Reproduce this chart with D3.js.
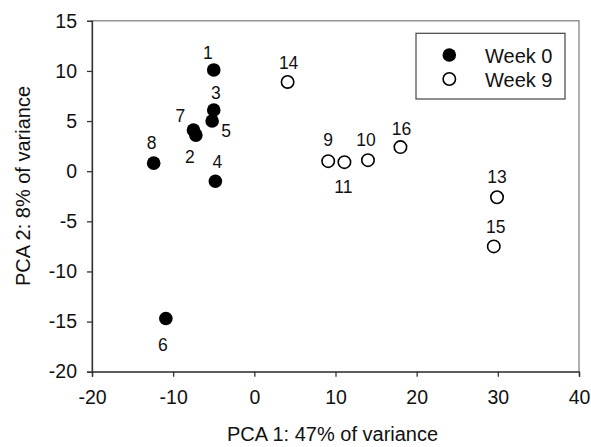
<!DOCTYPE html>
<html>
<head>
<meta charset="utf-8">
<script src="https://cdn.jsdelivr.net/npm/d3@7"></script>
<style>
  html, body { margin: 0; padding: 0; background: #fff; }
  svg { display: block; font-family: Arial, "Liberation Sans", sans-serif; }
</style>
</head>
<body>
<svg id="chart" width="591" height="447"></svg>
<script>
// Sample IDs and their PCA scores
const sampleIds = [1, 2, 3, 4, 5, 6, 7, 8, 9, 10, 11, 13, 14, 15, 16];
const pca1 = [-5.0, -7.2, -5.0, -4.8, -5.2, -10.9, -7.5, -12.4, 9.1, 14.0, 11.1, 29.9, 4.1, 29.5, 18.0];
const pca2 = [10.1, 3.6, 6.1, -1.0, 5.0, -14.7, 4.1, 0.8, 1.0, 1.1, 0.9, -2.6, 8.9, -7.5, 2.4];
const sampleWeek = [0, 0, 0, 0, 0, 0, 0, 0, 9, 9, 9, 9, 9, 9, 9];

// Axis ticks and legend entries
const xTicks = [-20, -10, 0, 10, 20, 30, 40];
const yTicks = [-20, -15, -10, -5, 0, 5, 10, 15];
const weeks = [0, 9];
const weekNames = ["Week 0", "Week 9"];

// Label placement relative to each marker (dx, baseline dy), in pixels
const labelOffsets = {
  1: [-6, -11], 2: [-6, 28], 3: [2, -11], 4: [2, -13], 5: [14, 16],
  6: [-3, 32], 7: [-13, -8], 8: [-2, -14], 9: [0, -15], 10: [-2, -14],
  11: [-1, 31], 13: [0, -14], 14: [1, -13], 15: [2, -13], 16: [1, -12]
};

const svg = d3.select("#chart");
const plotLeft = 92, plotRight = 579, plotTop = 20.8, plotBottom = 371.7;

const x = d3.scaleLinear().domain([-20, 40]).range([plotLeft, plotRight]);
const y = d3.scaleLinear().domain([-20, 15]).range([plotBottom, plotTop]);

// Plot frame
svg.append("rect")
  .attr("x", plotLeft).attr("y", plotTop)
  .attr("width", plotRight - plotLeft).attr("height", plotBottom - plotTop)
  .attr("fill", "none").attr("stroke", "#7a7a7a").attr("stroke-width", 1.2);

// Axes
const xAxis = svg.append("g")
  .attr("transform", `translate(0,${plotBottom})`)
  .call(d3.axisBottom(x).tickValues(xTicks).tickSize(5).tickPadding(13).tickFormat(d3.format("d")));
const yAxis = svg.append("g")
  .attr("transform", `translate(${plotLeft},0)`)
  .call(d3.axisLeft(y).tickValues(yTicks).tickSize(5).tickPadding(10).tickFormat(d3.format("d")));

[xAxis, yAxis].forEach(g => {
  g.select(".domain").attr("stroke", "#333").attr("stroke-width", 1.3);
  g.selectAll(".tick line").attr("stroke", "#333").attr("stroke-width", 1.3);
  g.selectAll(".tick text")
    .attr("fill", "#111")
    .style("font-size", "19.5px")
    .style("font-family", "Arial, 'Liberation Sans', sans-serif")
    .text(d => d < 0 ? "-" + Math.abs(d) : d);
});
xAxis.selectAll(".tick text").attr("dy", "0.71em");

// Axis titles
svg.append("text")
  .attr("x", 332.5).attr("y", 441)
  .attr("text-anchor", "middle")
  .attr("fill", "#111")
  .style("font-size", "20px")
  .text("PCA 1: 47% of variance");

svg.append("text")
  .attr("transform", "translate(30,186) rotate(-90)")
  .attr("text-anchor", "middle")
  .attr("fill", "#111")
  .style("font-size", "20px")
  .text("PCA 2: 8% of variance");

// Markers
const data = sampleIds.map((id, i) => ({ id, px: pca1[i], py: pca2[i], week: sampleWeek[i] }));

function styleMarker(sel, week) {
  if (week === 0) {
    sel.attr("r", 6.8).attr("fill", "#000").attr("stroke", "none");
  } else {
    sel.attr("r", 6.2).attr("fill", "#fff").attr("stroke", "#000").attr("stroke-width", 1.6);
  }
}

svg.append("g").selectAll("circle")
  .data(data)
  .join("circle")
  .attr("cx", d => x(d.px))
  .attr("cy", d => y(d.py))
  .each(function (d) { styleMarker(d3.select(this), d.week); });

// Sample labels
svg.append("g").selectAll("text")
  .data(data)
  .join("text")
  .attr("x", d => x(d.px) + labelOffsets[d.id][0])
  .attr("y", d => y(d.py) + labelOffsets[d.id][1])
  .attr("text-anchor", "middle")
  .attr("fill", "#111")
  .style("font-size", "17.5px")
  .text(d => d.id);

// Legend
const legend = svg.append("g");
legend.append("rect")
  .attr("x", 416).attr("y", 33.3)
  .attr("width", 149).attr("height", 65.7)
  .attr("fill", "#fff").attr("stroke", "#444").attr("stroke-width", 1.2);

weeks.forEach((w, i) => {
  const cy = 55 + i * 24;
  legend.append("circle")
    .attr("cx", 449.3).attr("cy", cy)
    .call(sel => styleMarker(sel, w));
  legend.append("text")
    .attr("x", 485).attr("y", cy + 7.5)
    .attr("fill", "#111")
    .style("font-size", "20px")
    .text(weekNames[i]);
});
</script>
</body>
</html>
